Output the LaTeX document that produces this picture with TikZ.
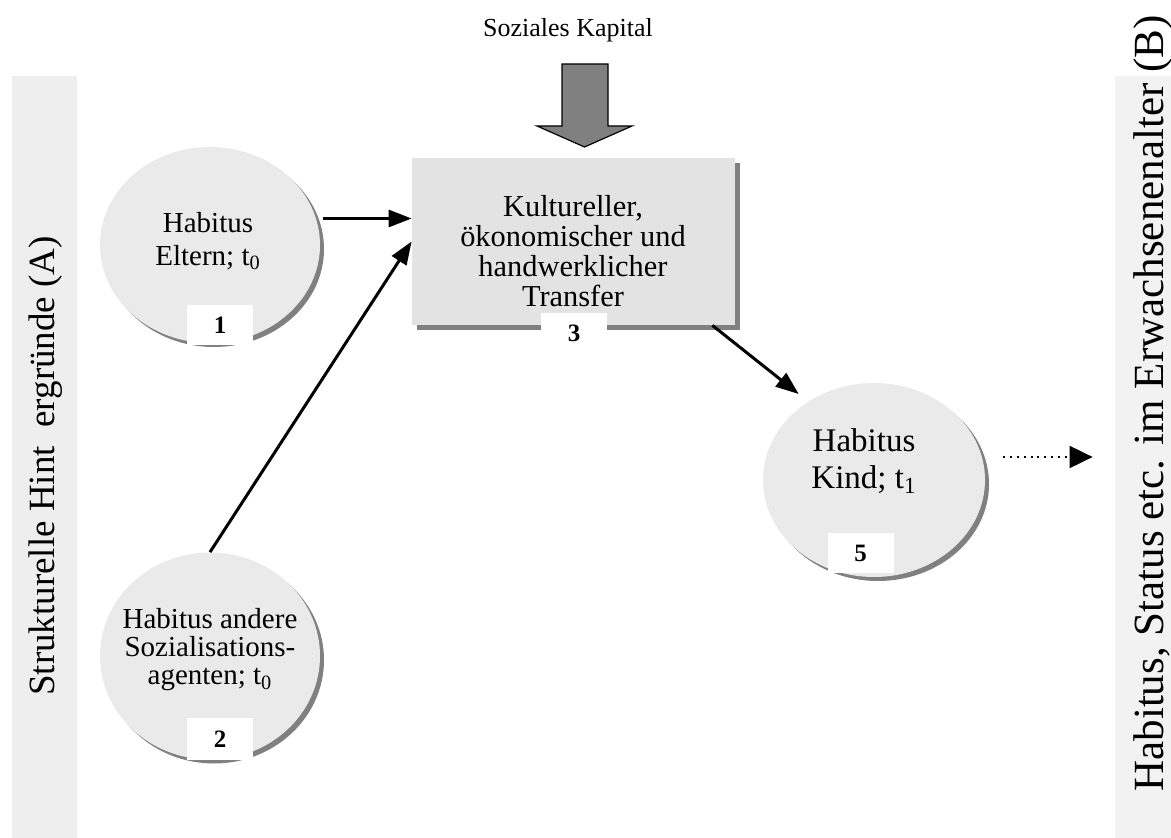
\documentclass[tikz,border=0pt]{standalone}
\usepackage{fontspec}
\setmainfont{Liberation Serif}
\usetikzlibrary{positioning,arrows.meta,shapes.geometric,shadows}
\definecolor{barleft}{RGB}{238,238,238}
\definecolor{barright}{RGB}{242,242,242}
\definecolor{bubble}{RGB}{234,234,234}
\definecolor{boxfill}{RGB}{227,227,227}
\definecolor{shade}{RGB}{128,128,128}
\tikzset{
  habitus/.style={ellipse,fill=bubble,inner sep=0pt,drop shadow={shadow xshift=2pt,shadow yshift=-2pt,fill=shade,opacity=1}},
  transferbox/.style={rectangle,fill=boxfill,inner sep=0pt,drop shadow={shadow xshift=2.5pt,shadow yshift=-2.5pt,fill=shade,opacity=1}},
  nummer/.style={fill=white,inner sep=0pt,minimum width=33pt,minimum height=20pt,font=\fontsize{12.5}{14}\selectfont\bfseries},
  htext/.style={align=center,font=\fontsize{14.5}{16.5}\selectfont},
  sidebar/.style={fill=barleft,inner sep=0pt,minimum height=381pt},
  conn/.style={line width=1.5pt,-{Triangle[length=11.5pt,width=8.5pt]}},
  dotconn/.style={line width=1pt,dash pattern=on 1pt off 2.4pt,-{Triangle[length=11.5pt,width=11pt]}}
}
\begin{document}
\begin{tikzpicture}[x=0.5pt,y=-0.5pt]
    \useasboundingbox (0,0) rectangle (1171,838);
    \node[sidebar,minimum width=32.5pt] (hinter) at (44.5,457) {};
    \node[rotate=90,font=\fontsize{18.5}{20}\selectfont] (hintertext) at (46,466) {Strukturelle Hint~~ergründe (A)};
    \node[sidebar,fill=barright,minimum width=28pt] (adult) at (1143,457) {};
    \node[rotate=90,font=\fontsize{21.5}{24}\selectfont] (adulttext) at (1153,403.5) {Habitus, Status etc. im Erwachsenenalter (B)};
    \node[font=\fontsize{13}{15}\selectfont] (kapital) at (568,30) {Soziales Kapital};
    \draw[fill=shade,line width=0.6pt] (562,64) -- (608,64) -- (608,126) -- (632,126) -- (584.5,147) -- (537,126) -- (562,126) -- cycle;
    \node[transferbox,minimum width=161.5pt,minimum height=83.5pt] (transfer) at (573.5,241.5) {};
    \node[htext,font=\fontsize{15.2}{15}\selectfont] (transfertext) at (573,251) {Kultureller,\\ökonomischer und\\handwerklicher\\Transfer};
    \node[nummer] (n3) at (574,333) {3};
    \node[habitus,minimum width=110pt,minimum height=98pt] (eltern) at (210,245) {};
    \node[htext] (elterntext) at (208,241) {Habitus\\Eltern; t\textsubscript{0}};
    \node[nummer] (n1) at (220,325) {1};
    \node[habitus,minimum width=110pt,minimum height=103.5pt] (agenten) at (210,656) {};
    \node[htext,font=\fontsize{14.5}{14}\selectfont] (agententext) at (210,650) {Habitus andere\\Sozialisations-\\agenten; t\textsubscript{0}};
    \node[nummer,minimum height=21pt] (n2) at (220,739) {2};
    \node[habitus,minimum width=111pt,minimum height=97pt] (kind) at (874,480) {};
    \node[htext,font=\fontsize{16.5}{18.5}\selectfont] (kindtext) at (864,461) {Habitus\\Kind; t\textsubscript{1}};
    \node[nummer] (n5) at (860.5,553) {5};
    \coordinate (tout) at ([xshift=-11.5pt]transfer.south east);
    \draw[conn,shorten <=3.5pt] (eltern.14) -- (eltern.14 -| transfer.west);
    \draw[conn] (agenten.north) -- (transfer.west);
    \draw[conn,shorten >=6pt] (tout) -- (kind.130);
    \draw[dotconn] ([xshift=9pt,yshift=11.5pt]kind.east) -- ([xshift=-11pt]adult.west);
  \end{tikzpicture}
\end{document}
